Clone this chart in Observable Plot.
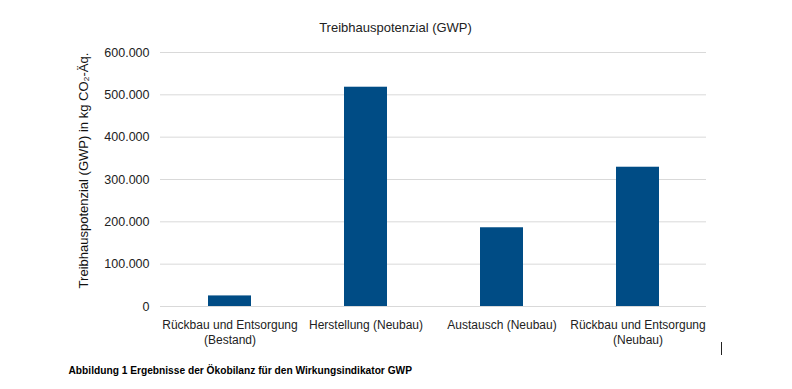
<!DOCTYPE html>
<html>
<head>
<meta charset="utf-8">
<script src="https://cdn.jsdelivr.net/npm/d3@7"></script>
<script src="https://cdn.jsdelivr.net/npm/@observablehq/plot@0.6"></script>
<style>
  html, body { margin: 0; padding: 0; background: #fff; }
  #chart { position: relative; width: 792px; height: 389px; }
  #cursor { position: absolute; left: 721px; top: 342px; width: 1px; height: 13px; background: #222; }
</style>
</head>
<body>
<div id="chart"><div id="cursor"></div></div>
<script>
const categories = [
  "Rückbau und Entsorgung\n(Bestand)",
  "Herstellung (Neubau)",
  "Austausch (Neubau)",
  "Rückbau und Entsorgung\n(Neubau)"
];
const values = [25000, 518000, 186000, 329000];
const yTicks = [0, 100000, 200000, 300000, 400000, 500000, 600000];
const titleText = "Treibhauspotenzial (GWP)";
const yLabel = "Treibhauspotenzial (GWP) in kg CO₂-Äq.";
const captionText = "Abbildung 1 Ergebnisse der Ökobilanz für den Wirkungsindikator GWP";

const data = categories.map((c, i) => ({category: c, value: values[i]}));
const de = d3.formatLocale({decimal: ",", thousands: ".", grouping: [3], currency: ["", " €"]});
const fmt = de.format(",.0f");

const chart = Plot.plot({
  width: 792,
  height: 389,
  marginTop: 52,
  marginBottom: 83,
  marginLeft: 160,
  marginRight: 86,
  style: {fontFamily: "Liberation Sans, Arial, sans-serif", fontSize: "12px", color: "#222", background: "#fff"},
  x: {domain: categories, paddingInner: 0.685, paddingOuter: 0.3425, label: null},
  y: {domain: [0, 600000], label: null},
  marks: [
    Plot.gridY(yTicks, {stroke: "#d9d9d9", strokeOpacity: 1, strokeWidth: 1}),
    Plot.barY(data, {x: "category", y: "value", fill: "#004c85"}),
    Plot.axisY(yTicks, {tickFormat: fmt, tickSize: 0, tickPadding: 11, fontSize: 12.5, fill: "#222"}),
    Plot.axisX({tickSize: 0, tickPadding: 12, fontSize: 12, fill: "#222", lineHeight: 1.25}),
    Plot.text([titleText], {frameAnchor: "top", dx: -38, dy: -30, fontSize: 13, fill: "#222"}),
    Plot.text([yLabel], {frameAnchor: "left", textAnchor: "middle", rotate: -90, dx: -77, dy: -9, fontSize: 13, fill: "#111"}),
    Plot.text([captionText], {frameAnchor: "bottom-left", textAnchor: "start", dx: -92, dy: 67, fontSize: 10.2, fontWeight: "bold", fill: "#000"})
  ]
});
document.getElementById("chart").prepend(chart);
</script>
</body>
</html>
